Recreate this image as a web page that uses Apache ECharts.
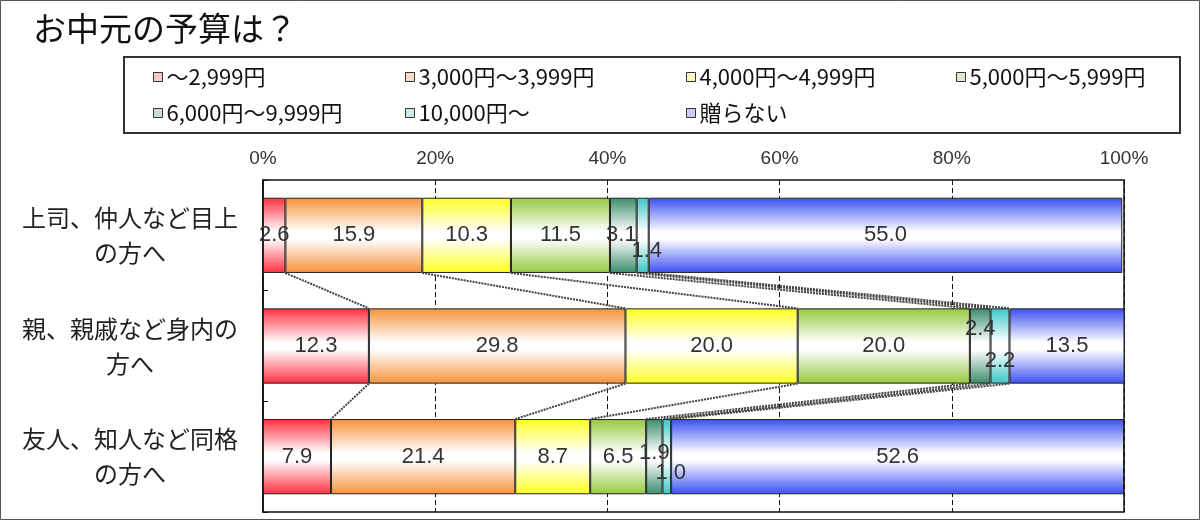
<!DOCTYPE html>
<html><head><meta charset="utf-8">
<script src="https://cdn.jsdelivr.net/npm/echarts@6/dist/echarts.min.js"></script>
<style>html,body{margin:0;padding:0;background:#fff}#c{width:1200px;height:520px}</style>
</head><body><div id="c"></div>
<script>
var categories = ['上司、仲人など目上\nの方へ', '親、親戚など身内の\n方へ', '友人、知人など同格\nの方へ'];
var seriesNames = ['～2,999円', '3,000円～3,999円', '4,000円～4,999円', '5,000円～5,999円', '6,000円～9,999円', '10,000円～', '贈らない'];
var under3000 = [2.6, 12.3, 7.9];
var from3000 = [15.9, 29.8, 21.4];
var from4000 = [10.3, 20.0, 8.7];
var from5000 = [11.5, 20.0, 6.5];
var from6000 = [3.1, 2.4, 1.9];
var over10000 = [1.4, 2.2, 1.0];
var noGift = [55.0, 13.5, 52.6];
var xTicks = [0, 20, 40, 60, 80, 100];

var values = [under3000, from3000, from4000, from5000, from6000, over10000, noGift];
var colors = ['#ff2f3f', '#f7913a', '#ffff20', '#95c940', '#3a8c6a', '#3cc6c8', '#3a4ff2'];
var pale = ['#f6c8cc', '#f6dcc8', '#f8f8c0', '#dcecc8', '#c8e0d4', '#c8ecee', '#c8ccf6'];
// label offsets for narrow segments [series][row]
var offsets = {
  '4_0': [-2, 0], '5_0': [4, 16],
  '4_1': [0, -17], '5_1': [0, 15],
  '4_2': [0, -4], '5_2': [4, 16]
};

function grad(c) {
  return new echarts.graphic.LinearGradient(0, 0, 0, 1, [
    {offset: 0, color: c}, {offset: 0.45, color: '#ffffff'},
    {offset: 0.55, color: '#ffffff'}, {offset: 1, color: c}]);
}

var series = values.map(function (arr, s) {
  return {
    name: seriesNames[s], type: 'bar', stack: 'total', barWidth: '68%',
    itemStyle: {color: grad(colors[s]), borderColor: '#222', borderWidth: 1},
    label: {show: true, position: 'inside', color: '#333', fontSize: 22,
      fontFamily: 'Liberation Sans, Arial, sans-serif',
      formatter: function (p) { return p.value.toFixed(1); }},
    data: arr.map(function (v, r) {
      var o = offsets[s + '_' + r];
      return o ? {value: v, label: {offset: o}} : v;
    }),
    z: 3
  };
});

// connector lines between adjacent bars
var connData = [];
for (var r = 0; r < categories.length - 1; r++) {
  var cA = 0, cB = 0;
  for (var s = 0; s < values.length - 1; s++) {
    cA += values[s][r]; cB += values[s][r + 1];
    connData.push([cA, r, cB, r + 1]);
  }
}
series.push({
  type: 'custom', z: 1, silent: true,
  renderItem: function (params, api) {
    var p1 = api.coord([api.value(0), api.value(1)]);
    var p2 = api.coord([api.value(2), api.value(3)]);
    var half = api.size([0, 1])[1] * 0.34;
    return {type: 'line', shape: {x1: p1[0], y1: p1[1] + half, x2: p2[0], y2: p2[1] - half},
      style: {stroke: '#444', lineWidth: 2, lineDash: [2, 1]}};
  },
  encode: {x: [0, 2], y: [1, 3]},
  data: connData
});

var legendCols = [[0, 4], [1, 5], [2, 6], [3]];
var legendLeft = [148, 400, 681, 951];
var legends = legendCols.map(function (col, i) {
  return {
    orient: 'vertical', left: legendLeft[i], top: 61, itemGap: 14,
    itemWidth: 9, itemHeight: 9, icon: 'rect',
    textStyle: {fontSize: 22, color: '#111', fontFamily: 'Noto Sans CJK JP', padding: [0, 0, 0, -1]},
    data: col.map(function (k) {
      return {name: seriesNames[k], itemStyle: {color: pale[k], borderColor: '#333', borderWidth: 1}};
    })
  };
});

var chart = echarts.init(document.getElementById('c'), null, {renderer: 'canvas'});
chart.setOption({
  animation: false,
  backgroundColor: '#fff',
  title: {text: 'お中元の予算は？', left: 28, top: 7,
    textStyle: {fontSize: 33, fontWeight: 'normal', color: '#111', fontFamily: 'Noto Sans CJK JP'}},
  legend: legends,
  graphic: [
    {type: 'rect', shape: {x: 0.5, y: 0.5, width: 1199, height: 519}, style: {fill: 'none', stroke: '#555', lineWidth: 1}, silent: true},
    {type: 'rect', shape: {x: 124, y: 57, width: 1056, height: 76}, style: {fill: 'none', stroke: '#333', lineWidth: 2}, silent: true}
  ],
  grid: {left: 263, right: 76, top: 180, bottom: 8, show: true, borderColor: '#111', borderWidth: 1.5, containLabel: false},
  xAxis: {
    type: 'value', position: 'top', min: 0, max: 100, interval: 20,
    axisLine: {show: false}, axisTick: {show: false},
    axisLabel: {formatter: function (v) { return xTicks.indexOf(v) >= 0 ? v + '%' : ''; },
      fontSize: 19, color: '#333', margin: 12, fontFamily: 'Liberation Sans, Arial, sans-serif'},
    splitLine: {show: true, lineStyle: {color: '#111', type: [5, 3], width: 1}}
  },
  yAxis: {
    type: 'category', inverse: true, data: categories,
    axisLine: {show: true, lineStyle: {color: '#111', width: 1.5}},
    axisTick: {show: true, inside: true, length: 5, lineStyle: {color: '#111'}},
    axisLabel: {align: 'center', margin: 133, fontSize: 24, lineHeight: 35, color: '#222', fontFamily: 'Noto Sans CJK JP'}
  },
  series: series
});
</script></body></html>
